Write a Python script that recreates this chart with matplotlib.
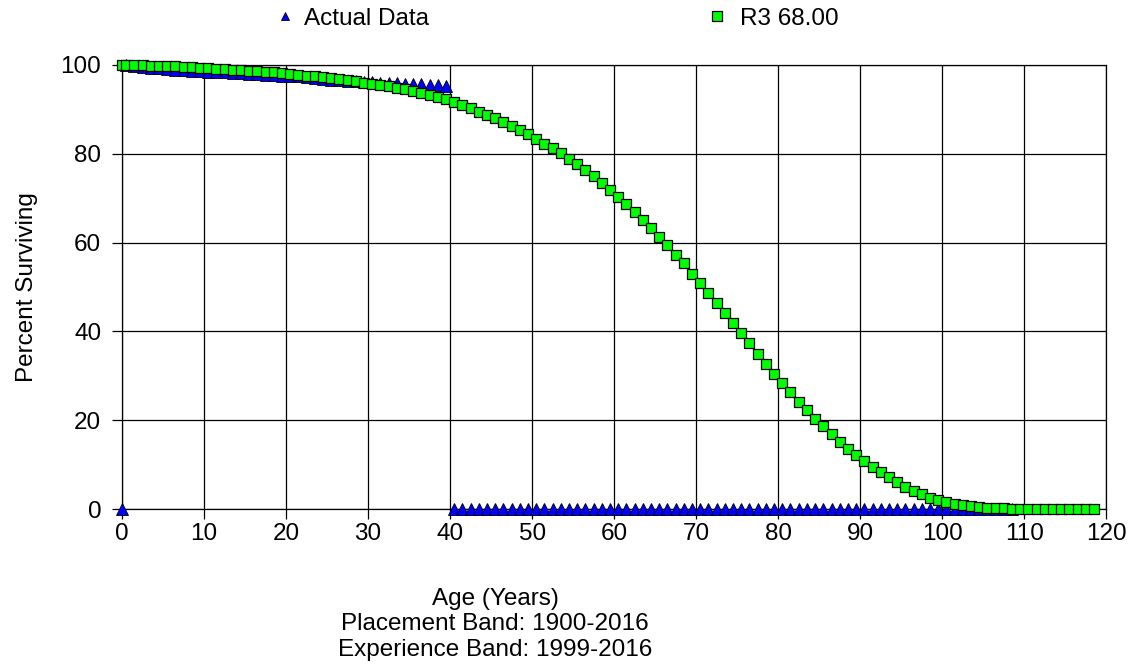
import numpy as np
import matplotlib
matplotlib.use("Agg")
import matplotlib.pyplot as plt
from matplotlib import font_manager

# fonts: narrow sans if there is one
names = {f.name for f in font_manager.fontManager.ttflist}
fam = "Liberation Sans Narrow" if "Liberation Sans Narrow" in names else "Liberation Sans"
plt.rcParams['font.family'] = [fam, 'DejaVu Sans']

# actual data (observed life table)
actual_age = [0.0, 0.5, 1.5, 2.5, 3.5, 4.5, 5.5, 6.5, 7.5, 8.5, 9.5,
              10.5, 11.5, 12.5, 13.5, 14.5, 15.5, 16.5, 17.5, 18.5, 19.5,
              20.5, 21.5, 22.5, 23.5, 24.5, 25.5, 26.5, 27.5, 28.5, 29.5,
              30.5, 31.5, 32.5, 33.5, 34.5, 35.5, 36.5, 37.5, 38.5, 39.5]
actual_pct = [0.0, 99.9, 99.7, 99.5, 99.3, 99.2, 99.0, 98.9, 98.8, 98.7, 98.6,
              98.5, 98.4, 98.3, 98.2, 98.1, 98.0, 97.9, 97.8, 97.7, 97.6,
              97.5, 97.4, 97.2, 97.1, 96.9, 96.7, 96.5, 96.4, 96.3, 96.2,
              96.1, 96.0, 96.0, 95.9, 95.8, 95.7, 95.6, 95.5, 95.4, 95.3]
# ages past the experience, plotted at zero
zero_age = [40.5, 41.5, 42.5, 43.5, 44.5, 45.5, 46.5, 47.5, 48.5, 49.5,
            50.5, 51.5, 52.5, 53.5, 54.5, 55.5, 56.5, 57.5, 58.5, 59.5,
            60.5, 61.5, 62.5, 63.5, 64.5, 65.5, 66.5, 67.5, 68.5, 69.5,
            70.5, 71.5, 72.5, 73.5, 74.5, 75.5, 76.5, 77.5, 78.5, 79.5,
            80.5, 81.5, 82.5, 83.5, 84.5, 85.5, 86.5, 87.5, 88.5, 89.5,
            90.5, 91.5, 92.5, 93.5, 94.5, 95.5, 96.5, 97.5, 98.5, 99.5,
            100.5, 101.5, 102.5, 103.5, 104.5, 105.5, 106.5, 107.5, 108.5]
zero_pct = [0, 0, 0, 0, 0, 0, 0, 0, 0, 0,
            0, 0, 0, 0, 0, 0, 0, 0, 0, 0,
            0, 0, 0, 0, 0, 0, 0, 0, 0, 0,
            0, 0, 0, 0, 0, 0, 0, 0, 0, 0,
            0, 0, 0, 0, 0, 0, 0, 0, 0, 0,
            0, 0, 0, 0, 0, 0, 0, 0, 0, 0,
            0, 0, 0, 0, 0, 0, 0, 0, 0]

# R3 68.00 curve
r3_age = [0.0] + [a + 0.5 for a in range(119)]
r3_pct = [100.0, 99.98, 99.95, 99.9, 99.85, 99.8, 99.7, 99.65, 99.55, 99.45,
          99.35, 99.25, 99.15, 99.05, 98.95, 98.85, 98.7, 98.6, 98.45, 98.3,
          98.15, 98.0, 97.8, 97.6, 97.4, 97.2, 97.0, 96.8, 96.5, 96.3,
          96.0, 95.8, 95.5, 95.2, 94.9, 94.5, 94.1, 93.7, 93.2, 92.8,
          92.3, 91.6, 91.0, 90.3, 89.5, 88.8, 88.0, 87.2, 86.3, 85.4,
          84.4, 83.4, 82.3, 81.2, 80.1, 78.9, 77.6, 76.3, 74.9, 73.4,
          71.9, 70.3, 68.6, 66.9, 65.1, 63.2, 61.3, 59.4, 57.3, 55.3,
          53.0, 50.8, 48.7, 46.4, 44.2, 41.9, 39.6, 37.3, 35.0, 32.7,
          30.5, 28.4, 26.3, 24.2, 22.2, 20.3, 18.6, 16.9, 15.2, 13.6,
          12.2, 10.8, 9.5, 8.4, 7.2, 6.0, 5.0, 4.1, 3.3, 2.6,
          2.0, 1.5, 1.15, 0.85, 0.65, 0.5, 0.35, 0.25, 0.18, 0.12,
          0.08, 0.05, 0.03, 0.02, 0.01, 0.0, 0.0, 0.0, 0.0, 0.0]

fs = 17.5

fig = plt.figure(figsize=(11.3, 6.69), dpi=100)
ax = fig.add_axes([0.108, 0.239, 0.871, 0.664])

tri, = ax.plot(actual_age, actual_pct, ls='none', marker='^', ms=8.3, mfc='#0000ff',
               mec='black', mew=0.6, clip_on=False, zorder=3)
ax.plot(zero_age, zero_pct, ls='none', marker='^', ms=8.3, mfc='#0000ff',
        mec='black', mew=0.6, clip_on=False, zorder=3)
sq, = ax.plot(r3_age, r3_pct, ls='none', marker='s', ms=7.7, mfc='#00ff00',
              mec='black', mew=0.9, clip_on=False, zorder=4)

ax.set_xlim(0, 120)
ax.set_ylim(0, 100)
ax.set_xticks(range(0, 121, 10))
ax.set_yticks(range(0, 101, 20))
ax.grid(True, color='black', lw=0.9)
ax.set_axisbelow(True)
ax.tick_params(labelsize=fs, length=7, width=0.9, color='black')
ax.tick_params(axis='y', pad=8)
ax.tick_params(axis='x', pad=3)
for s in ax.spines.values():
    s.set_linewidth(0.9)

ax.set_ylabel('Percent Surviving', fontsize=fs, labelpad=16)

fig.text(0.438, 0.067, 'Age (Years)\nPlacement Band: 1900-2016\nExperience Band: 1999-2016',
         ha='center', va='center', fontsize=fs, linespacing=1.2)

# two legend entries placed apart across the top
fig.legend([tri], ['Actual Data'], loc='center left', bbox_to_anchor=(0.245, 0.972),
           frameon=False, fontsize=fs, handlelength=0.7, handletextpad=0.4,
           borderpad=0, borderaxespad=0, markerscale=0.72)
fig.legend([sq], ['R3 68.00'], loc='center left', bbox_to_anchor=(0.627, 0.972),
           frameon=False, fontsize=fs, handlelength=0.7, handletextpad=0.6,
           borderpad=0, borderaxespad=0, markerscale=0.85)

fig.savefig('out.png', dpi=100)
